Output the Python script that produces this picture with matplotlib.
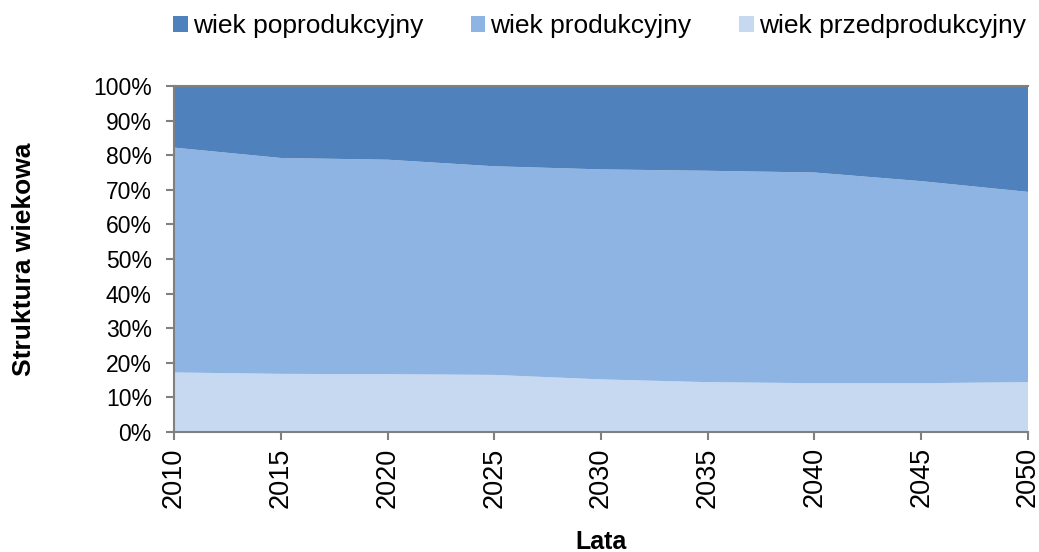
import numpy as np
import matplotlib.pyplot as plt
from matplotlib.ticker import PercentFormatter

plt.rcParams['font.family'] = ['Liberation Sans', 'DejaVu Sans']

# data (percent shares)
years = [2010, 2015, 2020, 2025, 2030, 2035, 2040, 2045, 2050]
przed = [17.2, 16.8, 16.7, 16.5, 15.2, 14.4, 14.1, 14.1, 14.4]
prod = [65.0, 62.4, 62.0, 60.3, 60.7, 61.1, 60.9, 58.4, 55.0]
popr = [17.8, 20.8, 21.3, 23.2, 24.1, 24.5, 25.0, 27.5, 30.6]
labels = ['wiek przedprodukcyjny', 'wiek produkcyjny', 'wiek poprodukcyjny']
colors = ['#C6D9F1', '#8EB4E3', '#4F81BD']

fig = plt.figure(figsize=(10.39, 5.52), dpi=100)
ax = fig.add_axes([0.1675, 0.2174, 0.8219, 0.6268])

ax.stackplot(years, przed, prod, popr, colors=colors, labels=labels, linewidth=0)

ax.set_xlim(2010, 2050)
ax.set_ylim(0, 100)
ax.set_xticks(years)
ax.set_xticklabels([str(y) for y in years], rotation=90)
ax.set_yticks(np.arange(0, 101, 10))
ax.yaxis.set_major_formatter(PercentFormatter(decimals=0))
ax.tick_params(color='#808080', length=6, width=1.5)
ax.tick_params(axis='y', pad=10, labelsize=16.5)
ax.tick_params(axis='x', pad=5, labelsize=19.5)

ax.spines['right'].set_visible(False)
for s in ['left', 'bottom', 'top']:
    ax.spines[s].set_color('#808080')
    ax.spines[s].set_linewidth(1.5)

ax.set_xlabel('Lata', fontsize=18, fontweight='bold', labelpad=16)
ax.set_ylabel('Struktura wiekowa', fontsize=19, fontweight='bold', labelpad=41)

h, l = ax.get_legend_handles_labels()
fig.legend(h[::-1], l[::-1], loc='center', bbox_to_anchor=(0.577, 0.953), ncol=3,
           fontsize=19, frameon=False, handlelength=0.55, handleheight=0.55,
           handletextpad=0.2, columnspacing=1.8)

fig.savefig('out.png', dpi=100)
